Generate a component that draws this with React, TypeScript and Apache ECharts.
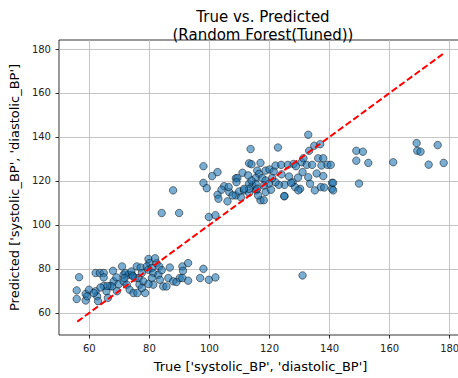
import React, { useEffect, useRef } from "react";
import * as echarts from "echarts";

const titleText = "True vs. Predicted\n(Random Forest(Tuned))";
const xLabel = "True ['systolic_BP', 'diastolic_BP']";
const yLabel = "Predicted ['systolic_BP', 'diastolic_BP']";
const tickValues = [60, 80, 100, 120, 140, 160, 180];
const axisMin = 49.9;
const axisMax = 184.1;
const idealLine = [[56, 56], [178, 178]];

const lowCluster = [
  [56.6, 76.2], [55.8, 70.2], [55.8, 66.3], [58.8, 68.6], [58.8, 65.6], [59.9, 70.5], [59.3, 67.5],
  [62.1, 78.1], [63.5, 78.1], [64.8, 78.1], [64.8, 76.1], [62.1, 69.8], [62.6, 67.5], [62.9, 65.3],
  [64.8, 72.2], [65.7, 69.8], [66.2, 66.8], [67.0, 72.2], [67.9, 79.1], [68.1, 74.3], [67.6, 72.0],
  [69.0, 76.1], [69.2, 69.8], [69.8, 73.0], [70.9, 81.1], [71.4, 77.3], [71.4, 74.3], [72.0, 78.1],
  [73.1, 77.3], [72.5, 72.8], [73.4, 70.5], [74.2, 77.3], [75.3, 75.8], [74.7, 69.0], [75.8, 81.1],
  [76.4, 75.8], [76.7, 72.8], [77.1, 80.6], [77.5, 78.1], [78.0, 74.3], [78.6, 69.0], [76.0, 69.0],
  [79.7, 84.5], [80.0, 82.6], [79.1, 81.1], [79.7, 79.6], [80.8, 80.3], [81.3, 78.1], [80.8, 75.8],
  [81.3, 72.8], [82.4, 82.6], [83.3, 81.1], [83.0, 77.3], [83.5, 75.0], [84.1, 79.4], [84.6, 72.0],
  [85.7, 72.0], [86.8, 80.6], [86.3, 75.8], [87.9, 74.3], [89.0, 74.0], [90.1, 75.8], [91.0, 81.1],
  [91.2, 79.1], [91.0, 75.8], [92.9, 82.6], [92.9, 74.6], [96.9, 75.8], [98.0, 80.0], [99.8, 75.0],
  [102.0, 76.1], [74.0, 78.8], [74.5, 76.6], [71.7, 75.8], [66.0, 72.2], [63.7, 71.5], [61.5, 69.0],
  [81.9, 84.8], [77.5, 71.3], [79.7, 73.1]
];

const highCluster = [
  [98.0, 119.1], [99.1, 116.7], [87.9, 115.7], [84.1, 105.4], [89.9, 105.4], [99.8, 103.6], [102.0, 104.4],
  [102.7, 113.7], [103.0, 111.9], [106.0, 110.7], [104.9, 117.6], [106.6, 114.9], [108.8, 113.4],
  [109.9, 115.2], [111.5, 115.7], [113.2, 114.6], [114.3, 118.0], [115.6, 115.7], [117.0, 111.2],
  [116.2, 113.4], [98.0, 126.7], [100.9, 122.2], [102.7, 124.0], [108.8, 121.2], [111.0, 123.7],
  [113.7, 134.5], [113.2, 128.0], [132.9, 141.0], [122.8, 135.2], [134.9, 136.0], [136.9, 136.7],
  [133.2, 133.7], [114.0, 127.6], [117.0, 128.2], [109.3, 121.3], [109.0, 119.4], [115.9, 124.7],
  [116.5, 123.2], [115.4, 121.3], [117.6, 121.3], [118.7, 124.7], [120.0, 125.2], [121.4, 124.3],
  [122.0, 127.0], [123.9, 127.3], [126.1, 127.3], [128.0, 127.7], [128.8, 126.7], [130.7, 128.5],
  [131.3, 130.3], [132.4, 127.3], [134.2, 127.3], [136.2, 130.3], [137.9, 130.3], [137.3, 127.0],
  [139.3, 127.3], [140.4, 127.3], [132.9, 121.7], [127.7, 119.4], [130.2, 116.4], [128.5, 117.2],
  [133.5, 118.7], [135.1, 115.7], [137.1, 117.2], [138.2, 117.0], [140.8, 119.1], [140.8, 116.4],
  [125.0, 118.2], [123.1, 118.2], [122.0, 119.4], [120.9, 121.3], [118.7, 120.2], [119.8, 118.7],
  [118.1, 117.9], [115.4, 118.7], [113.2, 118.7], [114.0, 120.2], [112.9, 122.5], [115.9, 116.4],
  [113.2, 116.4], [111.5, 116.4], [107.7, 113.4], [106.4, 117.2], [118.1, 111.2], [125.0, 113.1],
  [118.7, 114.9], [148.9, 133.7], [151.1, 133.3], [148.9, 129.2], [152.9, 128.2], [161.2, 128.5],
  [169.0, 137.2], [169.2, 133.7], [170.3, 133.3], [176.0, 136.3], [173.0, 127.4], [178.0, 128.2],
  [149.8, 118.8], [141.2, 119.1], [141.2, 115.7], [137.9, 122.2], [129.6, 115.7], [127.2, 119.1],
  [131.0, 77.0], [124.9, 113.0], [135.7, 123.4], [126.5, 122.0], [124.0, 123.0], [110.5, 112.5],
  [104.0, 116.0], [120.5, 116.0], [131.0, 124.0], [129.5, 121.5]
];

const scatterPoints = [...lowCluster, ...highCluster];

export default function App() {
  const ref = useRef<HTMLDivElement>(null);
  useEffect(() => {
    if (!ref.current) return;
    const chart = echarts.init(ref.current, null, { renderer: "svg" });
    const font = "DejaVu Sans";
    const axisCommon = {
      type: "value",
      min: axisMin,
      max: axisMax,
      splitNumber: 7,
      nameLocation: "middle",
      nameTextStyle: { fontFamily: font, fontSize: 13, color: "#000" },
      axisLine: { show: false },
      axisTick: { show: true, inside: false, length: 3.5, lineStyle: { color: "#000", width: 0.8 }, customValues: tickValues },
      axisLabel: { fontFamily: font, fontSize: 10, color: "#222", margin: 8, customValues: tickValues },
      splitLine: { show: true, lineStyle: { color: "#b8b8b8", width: 0.8 } },
    };
    chart.setOption({
      animation: false,
      backgroundColor: "#fff",
      title: {
        text: titleText,
        left: 258,
        top: 3,
        textAlign: "center",
        textStyle: { fontFamily: font, fontSize: 15, fontWeight: "normal", color: "#000", lineHeight: 18 },
      },
      grid: {
        left: 54.6,
        top: 40,
        width: 407.4,
        height: 296.7,
        show: true,
        borderColor: "#000",
        borderWidth: 0.8,
        backgroundColor: "transparent",
      },
      xAxis: { ...axisCommon, name: xLabel, nameGap: 25 },
      yAxis: { ...axisCommon, name: yLabel, nameGap: 33 },
      series: [
        {
          type: "scatter",
          data: scatterPoints,
          symbolSize: 7.5,
          itemStyle: { color: "#1f77b4", borderColor: "#000", borderWidth: 0.8, opacity: 0.6 },
          z: 2,
        },
        {
          type: "line",
          data: idealLine,
          symbol: "none",
          lineStyle: { color: "#ff0000", width: 2, type: [6.6, 2.9] },
          z: 3,
        },
      ],
    });
    return () => chart.dispose();
  }, []);
  return (
    <div style={{ position: "fixed", left: 0, top: 0, width: 458, height: 378, overflow: "hidden", background: "#fff" }}>
      <div ref={ref} style={{ width: 470, height: 378 }} />
    </div>
  );
}
